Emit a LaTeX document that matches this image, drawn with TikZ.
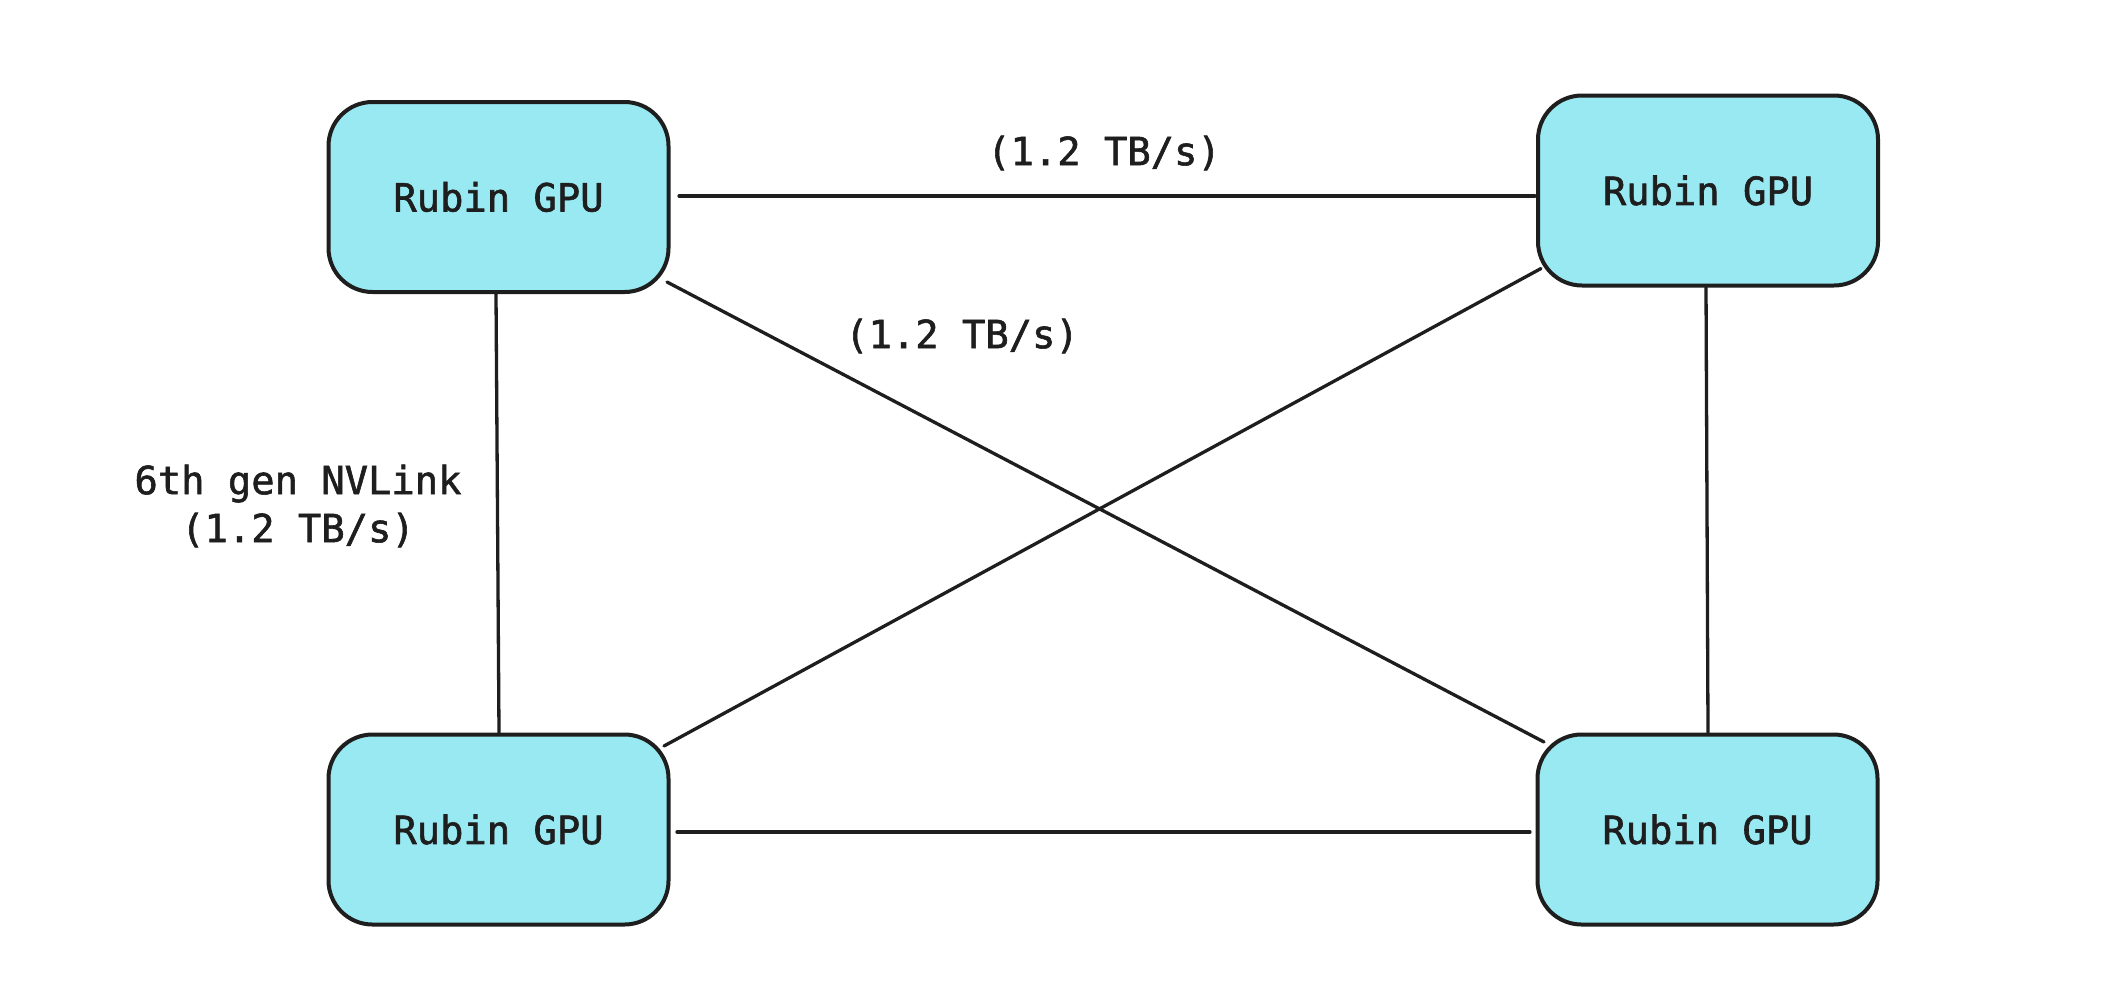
\documentclass[tikz,border=0pt]{standalone}
\usepackage{fontspec}
\setmainfont{DejaVu Sans Mono}[RawFeature={embolden=1.5}]
\definecolor{gpufill}{HTML}{99E9F2}
\definecolor{ink}{HTML}{1E1E1E}
\begin{document}
\begin{tikzpicture}[x=0.5pt,y=-0.5pt,
  gpubox/.style={draw=ink, fill=gpufill, line width=2pt, rounded corners=22pt,
    minimum width=170pt, minimum height=95pt, inner sep=0pt, text=ink,
    font=\fontsize{19.4}{23}\selectfont},
  link/.style={draw=ink, line width=1.65pt, line cap=round},
  lbl/.style={text=ink, inner sep=0pt, align=center,
    font=\fontsize{19.4}{24}\selectfont}]
\useasboundingbox[fill=white] (0,0) rectangle (2108,1002);

\node[gpubox] (tl) at (498.5,197) {Rubin GPU};
\node[gpubox] (tr) at (1708,190.5) {Rubin GPU};
\node[gpubox] (bl) at (498.5,829.5) {Rubin GPU};
\node[gpubox] (br) at (1707.5,829.5) {Rubin GPU};

\draw[link] ([shift={(8.5,-1)}]tl.east) -- ([shift={(-1,5.5)}]tr.west);
\draw[link] ([shift={(-2.5,0)}]tl.south) -- ([shift={(0.5,0)}]bl.north);
\draw[link] ([shift={(-2,0)}]tr.south) -- ([shift={(0.5,0)}]br.north);
\draw[link] ([shift={(6.5,2.5)}]bl.east) -- ([shift={(-5.5,2.5)}]br.west);
\draw[link] ([shift={(-3.5,-12)}]tl.south east) -- ([shift={(8.5,9.5)}]br.north west);
\draw[link] ([shift={(5,-19)}]tr.south west) -- ([shift={(-6.5,13.5)}]bl.north east);

\node[lbl] (l1) at (1104,153) {(1.2 TB/s)};
\node[lbl] (l2) at (962,336) {(1.2 TB/s)};
\node[lbl] (l3) at (298,506) {6th gen NVLink\\(1.2 TB/s)};
\end{tikzpicture}
\end{document}
